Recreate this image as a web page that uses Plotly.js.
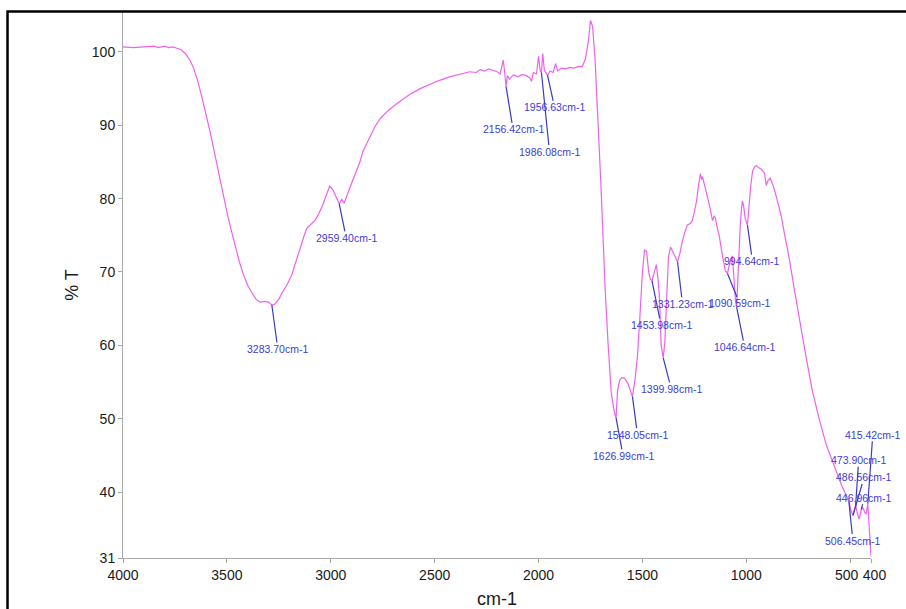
<!DOCTYPE html>
<html>
<head>
<meta charset="utf-8">
<script src="https://cdn.plot.ly/plotly-3.0.1.min.js"></script>
<style>html,body{margin:0;padding:0;background:#fff;}#chart{width:906px;height:609px;}</style>
</head>
<body>
<div id="chart"></div>
<script>
// Wavenumber (cm-1) and transmittance (%T)
const wavenumber = [4000,3950,3900,3850,3830,3800,3780,3760,3740,3720,3700,3680,3660,3640,3620,3600,3580,3560,3540,3520,3500,3480,3460,3440,3420,3400,3380,3360,3340,3320,3300,3283.7,3270,3250,3231,3210,3188,3170,3149,3130,3115,3095,3077,3060,3038,3020,3005,2990,2975,2959.4,2947,2935,2920,2899,2880,2860,2846,2837,2812,2788,2760,2716,2680,2620,2570,2524,2480,2428,2380,2332,2300,2280,2260,2240,2220,2200,2185,2170,2163,2156.42,2150,2140,2120,2100,2080,2060,2040,2034,2025,2010,2000,1992,1986.08,1980,1972,1956.63,1945,1930,1918,1908,1890,1870,1850,1830,1810,1790,1775,1760,1750,1740,1728,1715,1700,1690,1680,1665,1650,1635,1626.99,1620,1610,1600,1585,1570,1560,1548.05,1535,1524,1512,1500,1490,1480,1470,1462,1453.98,1445,1433,1425,1418,1410,1399.98,1392,1385,1375,1365,1355,1345,1331.23,1320,1308,1295,1284,1270,1260,1250,1240,1230,1221,1215,1211,1205,1197,1185,1173,1163,1155,1149,1140,1130,1115,1101,1090.59,1080,1067,1060,1052,1046.64,1038,1030,1024,1019,1013,1005,994.64,986,978,970,960,950,940,928,913,904,895,885,870,856,840,832,815,793,770,745,715,683,650,615,590,565,540,520,506.45,497,486.56,480,473.9,465,457,446.96,440,430,423,415.42,410,405,400];
const transmittance = [100.7,100.6,100.7,100.8,100.6,100.8,100.6,100.7,100.5,100.3,99.8,99.0,97.8,96.0,93.8,91.5,89.0,86.3,83.5,80.8,78.2,75.8,73.5,71.4,69.6,68.2,67.2,66.3,65.9,66.0,65.9,65.5,65.6,66.3,67.3,68.3,69.6,71.3,73.2,74.8,76.0,76.6,77.0,77.8,79.2,80.6,81.7,81.2,80.2,79.3,79.9,79.4,80.6,82.2,83.4,85.0,86.4,86.9,88.5,89.8,91.0,92.2,93.0,94.2,95.0,95.6,96.1,96.6,97.0,97.3,97.2,97.6,97.4,97.7,97.5,97.3,97.0,98.9,97.2,95.3,96.8,96.3,96.9,96.6,96.9,96.8,96.4,96.0,97.2,97.0,99.4,97.4,97.2,99.8,97.5,96.8,97.4,97.2,98.4,97.4,97.8,97.7,97.9,97.8,98.0,98.0,99.0,101.5,104.3,103.5,99.0,92.0,82.0,75.0,68.0,60.0,53.5,50.8,50.1,53.8,55.2,55.6,55.5,54.8,54.0,53.0,55.5,58.5,64.0,70.0,73.0,72.8,70.0,69.0,68.8,69.8,71.0,69.0,66.5,60.0,58.3,60.5,66.0,72.0,73.4,72.8,72.0,71.4,72.5,74.2,75.5,76.4,76.6,77.0,78.2,79.6,81.8,83.4,82.6,83.0,82.3,81.2,80.0,78.5,77.0,77.6,77.4,76.0,74.9,72.2,70.2,69.8,71.2,72.2,69.0,66.0,65.2,71.5,76.0,78.4,79.7,79.0,77.2,76.4,79.5,82.0,83.7,84.4,84.5,84.2,84.0,83.5,81.8,82.5,82.8,81.7,80.3,78.6,77.6,75.0,71.8,67.8,63.6,58.8,53.9,50.0,46.4,44.5,42.5,40.8,39.6,38.7,37.5,36.8,37.6,38.2,37.0,36.3,37.6,37.9,37.2,37.0,38.4,36.0,33.0,31.2];

// Peak labels: position, transmittance at the peak, label offsets (px)
const peakWavenumber = [3283.70,2959.40,2156.42,1986.08,1956.63,1626.99,1548.05,1399.98,1453.98,1331.23,1090.59,1046.64,994.64,415.42,473.90,486.56,446.96,506.45];
const peakT = [65.5,79.3,95.3,97.2,96.8,50.1,53.0,58.3,68.8,71.4,69.8,65.2,76.4,38.4,38.2,36.8,37.6,38.7];
const peakLabels = ["3283.70cm-1","2959.40cm-1","2156.42cm-1","1986.08cm-1","1956.63cm-1","1626.99cm-1","1548.05cm-1","1399.98cm-1","1453.98cm-1","1331.23cm-1","1090.59cm-1","1046.64cm-1","994.64cm-1","415.42cm-1","473.90cm-1","486.56cm-1","446.96cm-1","506.45cm-1"];
const labelDx = [6,7,7,8,7,7,5,8,9,5,12,8,5,5,3,11,3,4];
const labelDy = [44,34,43,79,32,38,38,31,44,42,30,40,36,-69,-45,-38,-12,39];

const xTickVals = [4000,3500,3000,2500,2000,1500,1000,500,400];
const xTickText = ['4000','3500','3000','2500','2000','1500','1000','500\u2002','\u2002400'];
const yTickVals = [31,40,50,60,70,80,90,100];

const regular = '"Liberation Sans", Arial, sans-serif';

const annotations = peakWavenumber.map((w, i) => ({
  x: w, y: peakT[i], xref: 'x', yref: 'y',
  text: peakLabels[i], showarrow: true, arrowhead: 0, arrowwidth: 1.2,
  arrowcolor: '#3a3ac8', ax: labelDx[i], ay: labelDy[i], standoff: 0,
  font: {family: regular, size: 10.5, color: '#3c3cd8'}, borderpad: 0
}));

const layout = {
  width: 906, height: 609,
  margin: {l: 123, r: 35, t: 12, b: 51},
  paper_bgcolor: '#ffffff', plot_bgcolor: '#ffffff',
  showlegend: false,
  xaxis: {
    range: [4000, 400], autorange: false,
    tickvals: xTickVals, ticktext: xTickText, tickangle: 0,
    showgrid: false, zeroline: false, showline: true, linecolor: '#a8a8a8', linewidth: 1,
    ticks: 'outside', ticklen: 4, tickcolor: '#a8a8a8',
    tickfont: {family: regular, size: 14, color: '#1a1a1a'},
    title: {text: 'cm-1', font: {family: regular, size: 18, color: '#1a1a1a'}, standoff: 11}
  },
  yaxis: {
    range: [31, 105.45], autorange: false,
    tickvals: yTickVals, ticktext: yTickVals.map(String),
    showgrid: false, zeroline: false, showline: true, linecolor: '#a8a8a8', linewidth: 1,
    ticks: 'outside', ticklen: 4, tickcolor: '#a8a8a8',
    tickfont: {family: regular, size: 14, color: '#1a1a1a'},
    title: {text: '% T', font: {family: regular, size: 18, color: '#1a1a1a'}, standoff: 8}
  },
  annotations: annotations,
  shapes: [{
    type: 'rect', xref: 'paper', yref: 'paper', layer: 'above',
    x0: -0.1544, x1: 1.1, y0: -0.3, y1: 1.001,
    line: {color: '#000000', width: 2.5}, fillcolor: 'rgba(0,0,0,0)'
  }]
};

Plotly.newPlot('chart', [{
  x: wavenumber, y: transmittance, type: 'scatter', mode: 'lines',
  line: {color: '#f060ee', width: 1.2}, hoverinfo: 'skip'
}], layout, {staticPlot: true, displayModeBar: false});
</script>
</body>
</html>
